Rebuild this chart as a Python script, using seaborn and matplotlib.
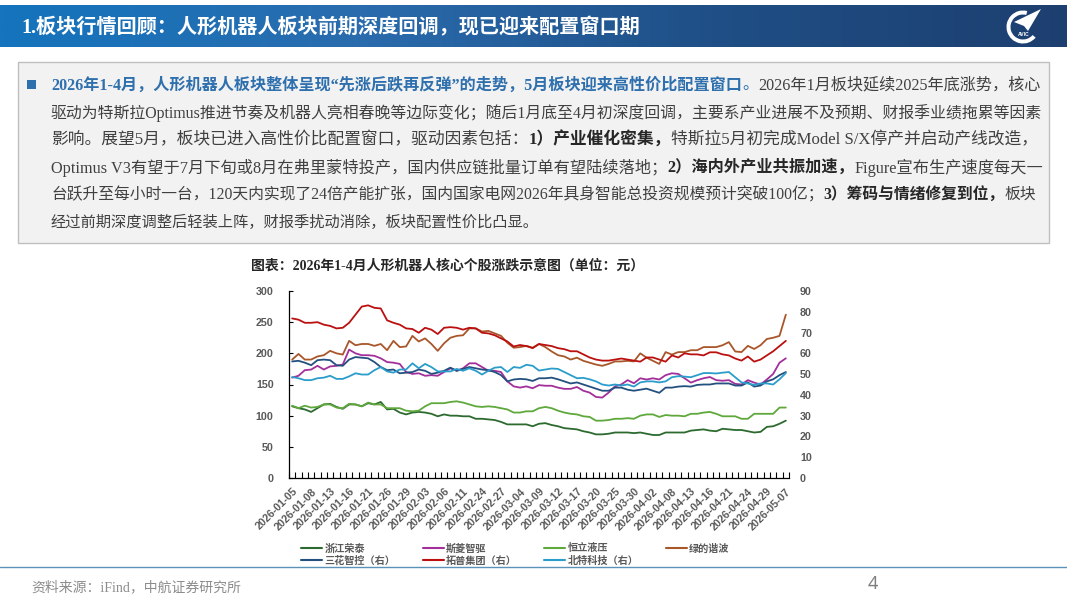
import numpy as np
import pandas as pd
import matplotlib
matplotlib.use("Agg")
import matplotlib.pyplot as plt
from matplotlib.patches import Rectangle, Polygon, Wedge
from matplotlib.colors import LinearSegmentedColormap
import seaborn as sns

sns.set_theme(style="white")
SERIF = ['Liberation Serif', 'Noto Sans CJK SC']
TICKF = "Liberation Sans"
plt.rcParams['font.family'] = SERIF

dates = ["01-05","01-06","01-07","01-08","01-09","01-12","01-13","01-14","01-15","01-16",
         "01-19","01-20","01-21","01-22","01-23","01-26","01-27","01-28","01-29","01-30",
         "02-02","02-03","02-04","02-05","02-06","02-09","02-10","02-11","02-12","02-13",
         "02-24","02-25","02-26","02-27",
         "03-02","03-03","03-04","03-05","03-06","03-09","03-10","03-11","03-12","03-13",
         "03-16","03-17","03-18","03-19","03-20","03-23","03-24","03-25","03-26","03-27",
         "03-30","03-31","04-01","04-02","04-03","04-07","04-08","04-09","04-10",
         "04-13","04-14","04-15","04-16","04-17","04-20","04-21","04-22","04-23","04-24",
         "04-27","04-28","04-29","04-30","05-06","05-07"]
dates = ["2026-" + d for d in dates]

# left axis series
zhejiang = [115,112,110,106,112,118,119,114,111,118,118,115,120,118,122,110,111,105,102,105,
            106,105,103,99,102,100,100,99,99,95,95,94,93,90,86,86,86,86,83,87,
            88,85,83,80,79,78,75,73,70,70,71,73,73,73,72,73,71,69,69,73,
            73,73,73,76,77,78,76,75,79,78,77,77,75,73,74,82,83,87,92]
siling = [161,164,173,174,180,174,179,180,182,206,200,197,197,196,192,186,185,183,170,167,
          168,164,165,164,170,176,172,176,184,184,178,172,172,170,155,147,145,147,144,149,
          148,148,145,143,143,146,140,137,130,129,137,147,150,157,152,160,158,160,158,165,
          168,167,160,153,157,160,162,157,156,157,151,150,157,153,150,158,167,185,192]
hengli = [116,112,116,113,114,118,118,113,112,119,118,115,121,118,118,112,112,112,108,107,
          108,115,120,120,120,122,123,121,118,115,114,115,114,112,110,105,105,107,107,112,
          114,112,108,105,103,102,99,98,92,92,93,95,95,96,95,100,102,102,98,101,
          100,100,99,103,103,105,106,103,99,99,99,95,95,103,103,103,103,113,113]
lvde = [190,199,190,190,195,197,204,200,198,220,213,215,215,212,215,205,220,210,211,228,
        219,224,215,204,216,225,228,229,240,240,235,236,232,228,217,209,210,212,209,215,
        210,203,197,195,190,193,188,185,182,180,183,187,187,188,187,200,193,188,183,202,
        198,202,202,205,205,210,210,210,213,218,203,202,212,207,213,223,225,228,262]
# right axis series
sanhua = [56.1,56.4,55.5,54.3,56.7,57,56.7,54.3,54,57,58.2,57.9,57.6,55.8,53.4,51.9,52.2,50.4,50.7,51,
          52.2,51.6,50.1,50.7,51.6,53.1,51.6,52.5,53.4,52.8,52.2,51.9,51,49.5,46.5,47.4,
          47.7,47.5,46.7,48,48,48.3,47.5,46.5,45.5,46,45,44,43,42,42,43.5,43.5,42.5,42,42.5,
          43,42,41,43.5,43.5,44,44.2,44,44.8,45,45,45.5,45.5,45.5,44.5,44.5,46,44,44.5,46.5,47.5,49.5,51]
tuopu = [76.8,76.2,74.7,74.7,75,73.8,73.2,72,72.3,74.7,78.6,82.5,83.1,81.9,81.6,75.9,74.7,73.8,72,71.7,
         69.9,72.3,71.4,69.3,72.3,72.6,72.3,71.4,72.3,72,69.9,69.6,68.7,67.2,65.7,63.3,
         64,63.5,62.5,64.5,64,63.5,62.5,62,61,61,59.5,58,57,56.5,56.5,57,57.5,57,56.5,56,58,58,57,56,
         59,58,60,59.5,59.5,59,60.5,60.5,59.5,59,57.5,56.5,58.5,56,57,59,61,63.5,66]
beite = [48.6,48,47.1,47.1,48,48.3,49.2,47.7,47.7,48.9,50.4,49.8,49.8,51.9,53.4,51.3,50.7,52.2,52.2,55.2,
         52.8,54.9,53.4,51.3,51.3,51.3,52.5,51.6,52.8,51.6,49.8,51.6,53.1,53.4,51,53.4,
         53,54.5,54,51.7,52.2,52.7,52.5,51,49.5,48,48.2,47.5,46.5,45,44.5,45,44.5,45,44,46,46.5,46.5,46,46.5,
         48.5,49,48.8,48.5,49.5,50.5,50.5,50.3,50.7,51,48.5,46,45.5,44.8,45.5,45.5,45,47.5,50.5]

left_series = {"浙江荣泰": zhejiang, "斯菱智驱": siling, "恒立液压": hengli, "绿的谐波": lvde}
right_series = {"三花智控（右）": sanhua, "拓普集团（右）": tuopu, "北特科技（右）": beite}
colors = {"浙江荣泰": "#2c6a2f", "斯菱智驱": "#a32f9b", "恒立液压": "#5fa83c", "绿的谐波": "#a9562a",
          "三花智控（右）": "#24507f", "拓普集团（右）": "#bb1010", "北特科技（右）": "#2a9dcb"}

title = "1.板块行情回顾：人形机器人板块前期深度回调，现已迎来配置窗口期"
chart_title = "图表：2026年1-4月人形机器人核心个股涨跌示意图（单位：元）"
source = "资料来源：iFind，中航证券研究所"
BLUE = "#2e6fae"
body = [
    [("2026年1-4月，人形机器人板块整体呈现“先涨后跌再反弹”的走势，5月板块迎来高性价比配置窗口", "bb"), ("。", "b"), ("2026年1月板块延续2025年底涨势，核心", "n")],
    [("驱动为特斯拉Optimus推进节奏及机器人亮相春晚等边际变化；随后1月底至4月初深度回调，主要系产业进展不及预期、财报季业绩拖累等因素", "n")],
    [("影响。展望5月，板块已进入高性价比配置窗口，驱动因素包括：", "n"), ("1）产业催化密集，", "k"), ("特斯拉5月初完成Model S/X停产并启动产线改造，", "n")],
    [("Optimus V3有望于7月下旬或8月在弗里蒙特投产，国内供应链批量订单有望陆续落地；", "n"), ("2）海内外产业共振加速，", "k"), ("Figure宣布生产速度每天一", "n")],
    [("台跃升至每小时一台，120天内实现了24倍产能扩张，国内国家电网2026年具身智能总投资规模预计突破100亿；", "n"), ("3）筹码与情绪修复到位，", "k"), ("板块", "n")],
    [("经过前期深度调整后轻装上阵，财报季扰动消除，板块配置性价比凸显。", "n")],
]

W, H = 1067, 600
fig = plt.figure(figsize=(W / 100, H / 100), dpi=100, facecolor="white")

# page layer in pixel coordinates
bg = fig.add_axes([0, 0, 1, 1], zorder=0)
bg.set_xlim(0, W); bg.set_ylim(H, 0); bg.axis("off")
cmap = LinearSegmentedColormap.from_list("hdr", ["#1474bd", "#2a6cae", "#1f4f86", "#1d3f70"])
bg.imshow(np.linspace(0, 1, 512)[None, :], extent=(0, W, 47.5, 6), cmap=cmap, aspect="auto", zorder=1)
bg.set_xlim(0, W); bg.set_ylim(H, 0)
bg.text(21, 28, title, color="white", fontsize=14.5, fontweight="bold", va="center", family=SERIF, zorder=3)

# logo
bg.add_patch(Wedge((1023, 27), 16.5, 40, 285, width=4, fc="white", ec="none", zorder=3))
bg.add_patch(Polygon([(1041, 9), (1014, 22), (1024, 26), (1028, 31)], fc="white", ec="none", zorder=3))
bg.text(1024, 34, "AVIC", color="white", fontsize=3.6, fontweight="bold", ha="center", va="center",
        family=TICKF, zorder=4)

# text box
bg.add_patch(Rectangle((18, 62), 1030.5, 181, fc="#f2f2f2", ec="#bfbfbf", lw=1, zorder=1))
bg.add_patch(Rectangle((27, 80), 9, 9, fc=BLUE, ec="none", zorder=2))

STY = {"n": dict(color="#404040", fontweight="normal"),
       "b": dict(color=BLUE, fontweight="normal"),
       "bb": dict(color=BLUE, fontweight="bold"),
       "k": dict(color="#262626", fontweight="bold")}
renderer = fig.canvas.get_renderer()
BASE = 11.0
X0, X1 = 51, 1037.5
Y0, DY = 85.5, 27.4

def line_width(segs, size):
    total = 0
    for s, k in segs:
        t = bg.text(0, 0, s, fontsize=size, family=SERIF, **STY[k])
        total += t.get_window_extent(renderer).width
        t.remove()
    return total

for i, segs in enumerate(body):
    size = BASE
    if i < 5:
        size = BASE * (X1 - X0) / line_width(segs, BASE)
    x = X0
    for s, k in segs:
        t = bg.text(x, Y0 + i * DY, s, fontsize=size, family=SERIF, va="center", zorder=3, **STY[k])
        x += t.get_window_extent(renderer).width

bg.text(251, 266, chart_title, fontsize=10.0, fontweight="bold", color="#262626", va="center", family=SERIF, zorder=3)
bg.plot([0, W], [567, 567], color="#5b93b8", lw=1, zorder=1)
bg.text(31, 587.5, source, fontsize=10, color="#8c8c8c", va="center", family=SERIF, zorder=3)
bg.text(873, 584, "4", fontsize=13, color="#7f7f7f", ha="center", va="center", family="Noto Sans", zorder=3)

# chart
L, R, T, B = 289, 789, 291, 478
ax = fig.add_axes([L / W, 1 - B / H, (R - L) / W, (B - T) / H], zorder=2)
ax.patch.set_alpha(0)
ax2 = ax.twinx()
ax2.patch.set_alpha(0)

df_left = pd.DataFrame(left_series, index=dates).rename_axis("date").reset_index().melt("date", var_name="name", value_name="v")
df_right = pd.DataFrame(right_series, index=dates).rename_axis("date").reset_index().melt("date", var_name="name", value_name="v")
sns.lineplot(data=df_left, x="date", y="v", hue="name", palette=colors, sort=False, lw=1.3, ax=ax, legend=False, zorder=3)
sns.lineplot(data=df_right, x="date", y="v", hue="name", palette=colors, sort=False, lw=1.3, ax=ax2, legend=False, zorder=2)

n = len(dates)
ax.set_xlim(-0.5, n - 0.5)
ax.set_ylim(0, 300); ax2.set_ylim(0, 90)
ax.set_yticks(range(0, 301, 50)); ax2.set_yticks(range(0, 91, 10))
ax.set_xlabel(""); ax.set_ylabel(""); ax2.set_ylabel(""); ax2.set_xlabel("")
ax.set_xticks(range(0, n, 3))
ax.set_xticklabels(dates[::3], rotation=45, ha="right", rotation_mode="anchor",
                   fontsize=7.7, fontweight="bold", color="#595959", family=TICKF)
ax.set_xticks(np.arange(-0.5, n, 1), minor=True)
ax.tick_params(axis="x", which="major", length=0, pad=6, bottom=True)
ax.tick_params(axis="x", which="minor", direction="in", length=4.2, width=0.8, color="black", bottom=True)
ax.tick_params(axis="y", direction="in", length=3, width=0.8, color="black", left=True, pad=11)
ax2.tick_params(axis="y", length=0, pad=8)
for a in (ax, ax2):
    for lab in a.get_yticklabels():
        lab.set_fontsize(7.7); lab.set_fontweight("bold"); lab.set_color("#595959"); lab.set_family(TICKF)
for s in ("top", "right"):
    ax.spines[s].set_visible(False)
for s in ("top", "right", "left", "bottom"):
    ax2.spines[s].set_visible(False)
for s in ("left", "bottom"):
    ax.spines[s].set_color("black"); ax.spines[s].set_linewidth(0.9); ax.spines[s].set_visible(True)

# legend, filled column by column
order = ["浙江荣泰", "三花智控（右）", "斯菱智驱", "拓普集团（右）", "恒立液压", "北特科技（右）", "绿的谐波"]
handles = [plt.Line2D([], [], color=colors[k], lw=1.5) for k in order]
leg = fig.legend(handles, order, ncol=4, loc="upper left", bbox_to_anchor=(301 / W, 1 - 543 / H),
                 frameon=False, handlelength=2.1, handletextpad=0.2, columnspacing=2.7,
                 labelspacing=0.2, borderpad=0, borderaxespad=0,
                 prop={"family": "Noto Sans CJK SC", "size": 7.3, "weight": "bold"}, labelcolor="#595959")
fig.savefig("out.png", dpi=100)
